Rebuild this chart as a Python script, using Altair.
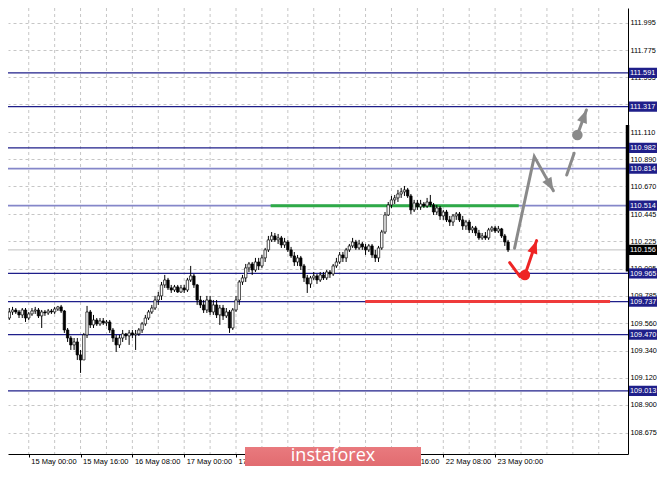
import altair as alt
import pandas as pd

# ---------------- data (H1 candles, bar 0 = 15 May 00:00) ----------------
first_bar = -7
opens = [
    109.572, 109.604, 109.653, 109.669, 109.653, 109.629, 109.669, 109.604, 109.637, 109.661,
    109.669, 109.621, 109.653, 109.645, 109.661, 109.653, 109.677, 109.694, 109.661, 109.507,
    109.442, 109.386, 109.410, 109.305, 109.264, 109.467, 109.653, 109.548, 109.588, 109.556,
    109.580, 109.564, 109.572, 109.507, 109.442, 109.386, 109.442, 109.475, 109.459, 109.483,
    109.467, 109.475, 109.507, 109.556, 109.604, 109.653, 109.685, 109.750, 109.783, 109.872,
    109.912, 109.848, 109.831, 109.856, 109.815, 109.848, 109.831, 109.912, 109.945, 109.872,
    109.750, 109.710, 109.669, 109.750, 109.653, 109.710, 109.629, 109.685, 109.621, 109.653,
    109.523, 109.669, 109.750, 109.896, 109.929, 110.010, 110.042, 109.993, 110.058, 110.026,
    110.091, 110.156, 110.237, 110.269, 110.237, 110.253, 110.196, 110.220, 110.156, 110.107,
    110.058, 110.091, 110.026, 109.929, 109.880, 109.929, 109.945, 109.912, 109.953, 109.929,
    109.977, 109.961, 110.026, 110.058, 110.115, 110.091, 110.156, 110.188, 110.220, 110.172,
    110.204, 110.180, 110.156, 110.188, 110.115, 110.091, 110.172, 110.301, 110.439, 110.520,
    110.561, 110.577, 110.609, 110.626, 110.642, 110.593, 110.480, 110.536, 110.504, 110.528,
    110.512, 110.544, 110.520, 110.463, 110.496, 110.431, 110.463, 110.399, 110.382, 110.431,
    110.447, 110.399, 110.350, 110.382, 110.318, 110.334, 110.293, 110.253, 110.269, 110.253,
    110.318, 110.334, 110.309, 110.326, 110.269, 110.220,
]
closes = [
    109.604, 109.653, 109.669, 109.653, 109.629, 109.669, 109.604, 109.637, 109.661, 109.669,
    109.621, 109.653, 109.645, 109.661, 109.653, 109.677, 109.694, 109.661, 109.507, 109.442,
    109.386, 109.410, 109.305, 109.264, 109.467, 109.653, 109.548, 109.588, 109.556, 109.580,
    109.564, 109.572, 109.507, 109.442, 109.386, 109.442, 109.475, 109.459, 109.483, 109.467,
    109.475, 109.507, 109.556, 109.604, 109.653, 109.685, 109.750, 109.783, 109.872, 109.912,
    109.848, 109.831, 109.856, 109.815, 109.848, 109.831, 109.912, 109.945, 109.872, 109.750,
    109.710, 109.669, 109.750, 109.653, 109.710, 109.629, 109.685, 109.621, 109.653, 109.523,
    109.669, 109.750, 109.896, 109.929, 110.010, 110.042, 109.993, 110.058, 110.026, 110.091,
    110.156, 110.237, 110.269, 110.237, 110.253, 110.196, 110.220, 110.156, 110.107, 110.058,
    110.091, 110.026, 109.929, 109.880, 109.929, 109.945, 109.912, 109.953, 109.929, 109.977,
    109.961, 110.026, 110.058, 110.115, 110.091, 110.156, 110.188, 110.220, 110.172, 110.204,
    110.180, 110.156, 110.188, 110.115, 110.091, 110.172, 110.301, 110.439, 110.520, 110.561,
    110.577, 110.609, 110.626, 110.642, 110.593, 110.480, 110.536, 110.504, 110.528, 110.512,
    110.544, 110.520, 110.463, 110.496, 110.431, 110.463, 110.399, 110.382, 110.431, 110.447,
    110.399, 110.350, 110.382, 110.318, 110.334, 110.293, 110.253, 110.269, 110.253, 110.318,
    110.334, 110.309, 110.326, 110.269, 110.220, 110.156,
]
highs = [
    109.629, 109.685, 109.694, 109.685, 109.669, 109.685, 109.685, 109.653, 109.685, 109.694,
    109.685, 109.669, 109.669, 109.677, 109.677, 109.694, 109.702, 109.710, 109.669, 109.523,
    109.459, 109.442, 109.442, 109.345, 109.483, 109.702, 109.669, 109.629, 109.604, 109.604,
    109.604, 109.588, 109.588, 109.523, 109.467, 109.467, 109.507, 109.483, 109.507, 109.507,
    109.507, 109.523, 109.572, 109.629, 109.669, 109.710, 109.783, 109.815, 109.896, 109.953,
    109.929, 109.872, 109.872, 109.872, 109.872, 109.872, 109.929, 110.026, 109.961, 109.880,
    109.783, 109.750, 109.783, 109.783, 109.750, 109.750, 109.710, 109.710, 109.685, 109.669,
    109.685, 109.783, 109.912, 109.953, 110.042, 110.058, 110.058, 110.091, 110.091, 110.115,
    110.172, 110.269, 110.301, 110.293, 110.285, 110.269, 110.253, 110.237, 110.180, 110.139,
    110.115, 110.107, 110.042, 109.953, 109.945, 109.977, 109.961, 109.977, 109.977, 109.993,
    109.993, 110.042, 110.091, 110.139, 110.139, 110.172, 110.204, 110.253, 110.237, 110.237,
    110.220, 110.204, 110.204, 110.204, 110.156, 110.188, 110.318, 110.463, 110.544, 110.593,
    110.601, 110.642, 110.658, 110.674, 110.658, 110.609, 110.561, 110.561, 110.561, 110.544,
    110.577, 110.601, 110.536, 110.520, 110.512, 110.480, 110.480, 110.431, 110.447, 110.463,
    110.463, 110.431, 110.399, 110.399, 110.350, 110.350, 110.318, 110.293, 110.301, 110.334,
    110.350, 110.350, 110.350, 110.334, 110.285, 110.237,
]
lows = [
    109.540, 109.588, 109.629, 109.637, 109.604, 109.604, 109.572, 109.588, 109.621, 109.637,
    109.604, 109.523, 109.621, 109.629, 109.637, 109.637, 109.661, 109.645, 109.483, 109.410,
    109.345, 109.345, 109.264, 109.159, 109.264, 109.442, 109.523, 109.523, 109.540, 109.540,
    109.548, 109.540, 109.483, 109.410, 109.329, 109.361, 109.410, 109.426, 109.386, 109.442,
    109.345, 109.459, 109.483, 109.540, 109.588, 109.637, 109.669, 109.710, 109.750, 109.848,
    109.831, 109.807, 109.815, 109.807, 109.807, 109.807, 109.815, 109.896, 109.848, 109.710,
    109.685, 109.645, 109.645, 109.629, 109.629, 109.604, 109.548, 109.588, 109.604, 109.483,
    109.507, 109.653, 109.710, 109.872, 109.896, 109.977, 109.953, 109.977, 109.993, 110.010,
    110.058, 110.139, 110.220, 110.220, 110.204, 110.172, 110.172, 110.139, 110.091, 110.026,
    110.026, 109.993, 109.896, 109.807, 109.848, 109.912, 109.880, 109.896, 109.912, 109.912,
    109.929, 109.945, 110.010, 110.042, 110.058, 110.058, 110.139, 110.172, 110.156, 110.156,
    110.156, 110.115, 110.139, 110.091, 110.058, 110.058, 110.156, 110.285, 110.431, 110.496,
    110.528, 110.544, 110.577, 110.593, 110.577, 110.447, 110.463, 110.480, 110.480, 110.496,
    110.496, 110.504, 110.439, 110.439, 110.399, 110.399, 110.382, 110.350, 110.350, 110.399,
    110.382, 110.318, 110.318, 110.293, 110.293, 110.269, 110.237, 110.237, 110.237, 110.237,
    110.301, 110.293, 110.293, 110.253, 110.188, 110.139,
]

price_ticks = [111.995, 111.775, 111.555, 111.335, 111.110, 110.890, 110.670, 110.445, 110.225,
               110.005, 109.785, 109.560, 109.340, 109.120, 108.900, 108.675, 108.455]
# labels that stay visible (the ones under the watermark are hidden in the original)
time_tick_bars = [0, 16, 32, 48, 64, 112, 128, 144]
time_tick_labels = ["15 May 00:00", "15 May 16:00", "16 May 08:00", "17 May 00:00", "17 May 16:00",
                    "21 May 16:00", "22 May 08:00", "23 May 00:00"]
grid_bars = [0, 8, 16, 24, 32, 40, 48, 56, 64, 72, 80, 88, 96, 104, 112, 120, 128, 136, 144,
             152, 160, 168, 176]

navy_levels = [111.591, 111.317, 110.982, 109.965, 109.737, 109.470, 109.013]
lavender_levels = [110.814, 110.514]
bid_price = 110.156
tag_levels = [111.591, 111.317, 110.982, 110.814, 110.514, 110.156, 109.965, 109.737, 109.470, 109.013]
tag_colors = ["#1f1f8a"] * 5 + ["#000000"] + ["#1f1f8a"] * 4

seg_x0 = [74.7, 103.9]
seg_x1 = [151.3, 179.5]
seg_level = [110.514, 109.737]
seg_colors = ["#2eaa47", "#ef3b3b"]
day_range = [111.168, 109.980]

gray_group = ["a", "a", "a", "b", "b", "c", "c"]
gray_bar = [150.0, 156.1, 162.0, 166.1, 168.4, 169.4, 172.2]
gray_price = [110.169, 110.912, 110.636, 110.763, 110.939, 111.087, 111.290]
red_group = ["a", "a", "b", "b"]
red_bar = [148.5, 151.7, 153.2, 156.8]
red_price = [110.053, 109.939, 109.953, 110.231]
head_bar = [162.0, 172.2, 156.8]
head_price = [110.636, 111.290, 110.231]
head_angle = [150, 20, 19]
head_colors = ["#8a8a8a", "#8a8a8a", "#ee2424"]
dot_bar = [169.4, 153.2]
dot_price = [111.087, 109.953]
dot_colors = ["#8a8a8a", "#ee2424"]

# ---------------- styling ----------------
W, H = 620, 446
NAVY = "#1f1f8a"
LAV = "#8587c9"
FONT = "Liberation Sans"
FS = 7.3

xs = alt.Scale(domain=[-4.86, 183.49], nice=False, zero=False)
ys = alt.Scale(domain=[108.502, 112.116], nice=False, zero=False)

label_expr = "[" + ",".join("'%s'" % s for s in time_tick_labels) + "][indexof([" + \
    ",".join(str(b) for b in time_tick_bars) + "], datum.value)]"

x_axis = alt.Axis(values=time_tick_bars, labelExpr=label_expr, orient="bottom", grid=False,
                  domain=True, domainColor="black", domainWidth=1, ticks=True, tickColor="black",
                  tickSize=3, labelAlign="left", labelBaseline="top", labelPadding=0, labelOffset=2,
                  labelFont=FONT, labelFontSize=7.5, labelColor="black", labelFlush=False,
                  labelOverlap=False, labelBound=False, title=None)
y_axis = alt.Axis(values=price_ticks, format=".3f", orient="right", grid=True, gridColor="#c6c6c6",
                  gridDash=[3, 3], gridWidth=1, domain=True, domainColor="black", domainWidth=1,
                  ticks=False, tickSize=0, labelPadding=2, labelFont=FONT, labelFontSize=FS,
                  labelColor="black", labelOverlap=False, labelFlush=False, labelBound=False,
                  title=None)


def X(field):
    return alt.X(field, scale=xs, axis=x_axis, title=None)


def Y(field):
    return alt.Y(field, scale=ys, axis=y_axis, title=None)


candles = pd.DataFrame({"bar": list(range(first_bar, first_bar + len(closes))),
                        "open": opens, "high": highs, "low": lows, "close": closes})

vgrid = alt.Chart(pd.DataFrame({"g": grid_bars})).mark_rule(
    color="#c6c6c6", strokeDash=[3, 3], strokeWidth=1).encode(x=X("g:Q"))

levels_navy = alt.Chart(pd.DataFrame({"level": navy_levels})).mark_rule(
    color=NAVY, strokeWidth=1.3).encode(y=Y("level:Q"))
levels_lav = alt.Chart(pd.DataFrame({"level": lavender_levels})).mark_rule(
    color=LAV, strokeWidth=1.8).encode(y=Y("level:Q"))
bid_line = alt.Chart(pd.DataFrame({"level": [bid_price]})).mark_rule(
    color="#c0c0c0", strokeWidth=1).encode(y=Y("level:Q"))

seg_df = pd.DataFrame({"x0": seg_x0, "x1": seg_x1, "level": seg_level, "c": seg_colors})
segs = alt.Chart(seg_df).mark_rule(strokeWidth=3).encode(
    x=X("x0:Q"), x2="x1:Q", y=Y("level:Q"), color=alt.Color("c:N", scale=None))

wicks = alt.Chart(candles).mark_rule(color="black", strokeWidth=1, clip=True).encode(
    x=X("bar:Q"), y=Y("low:Q"), y2="high:Q")
bodies = alt.Chart(candles).mark_bar(size=2.4, stroke="black", strokeWidth=0.7, clip=True).encode(
    x=X("bar:Q"), y=Y("open:Q"), y2="close:Q",
    fill=alt.condition("datum.close >= datum.open", alt.value("white"), alt.value("black")))

gray_df = pd.DataFrame({"grp": gray_group, "bar": gray_bar, "price": gray_price,
                        "k": list(range(len(gray_bar)))})
gray_lines = alt.Chart(gray_df).mark_line(color="#8a8a8a", strokeWidth=3, strokeCap="round").encode(
    x=X("bar:Q"), y=Y("price:Q"), detail="grp:N", order="k:Q")
red_df = pd.DataFrame({"grp": red_group, "bar": red_bar, "price": red_price,
                       "k": list(range(len(red_bar)))})
red_lines = alt.Chart(red_df).mark_line(color="#ee2424", strokeWidth=3, strokeCap="round").encode(
    x=X("bar:Q"), y=Y("price:Q"), detail="grp:N", order="k:Q")

dots = alt.Chart(pd.DataFrame({"bar": dot_bar, "price": dot_price, "c": dot_colors})).mark_point(
    shape="circle", filled=True, size=110, opacity=1).encode(
    x=X("bar:Q"), y=Y("price:Q"), color=alt.Color("c:N", scale=None))
heads = alt.Chart(pd.DataFrame({"bar": head_bar, "price": head_price, "ang": head_angle,
                                "c": head_colors})).mark_point(
    shape="M0,0L0.8,2L-0.8,2Z", filled=True, size=169, opacity=1).encode(
    x=X("bar:Q"), y=Y("price:Q"), angle=alt.Angle("ang:Q", scale=None),
    color=alt.Color("c:N", scale=None))

day_bar = alt.Chart(pd.DataFrame({"a": [day_range[0]], "b": [day_range[1]]})).mark_rule(
    color="black", strokeWidth=3.5).encode(x=alt.value(W - 0.5), y=Y("a:Q"), y2="b:Q")

tags_df = pd.DataFrame({"level": tag_levels, "c": tag_colors})
tag_boxes = alt.Chart(tags_df).mark_point(
    shape="M-1,-0.3H1V0.3H-1Z", filled=True, size=1156, opacity=1).encode(
    x=alt.value(W + 18), y=Y("level:Q"), color=alt.Color("c:N", scale=None))
tag_text = alt.Chart(tags_df).mark_text(
    align="left", baseline="middle", font=FONT, fontSize=FS, color="white", dy=0.5).encode(
    x=alt.value(W + 2), y=Y("level:Q"), text=alt.Text("level:Q", format=".3f"))

wm_box = alt.Chart(pd.DataFrame({"t": ["instaforex"]})).mark_rect(
    color=alt.Gradient(gradient="linear", x1=0, y1=0, x2=0, y2=1,
                       stops=[alt.GradientStop(color="#e97a7e", offset=0),
                              alt.GradientStop(color="#dc6166", offset=1)])).encode(
    x=alt.value(237), x2=alt.value(413), y=alt.value(439), y2=alt.value(472))
wm_text = alt.Chart(pd.DataFrame({"t": ["instaforex"]})).mark_text(
    font="Open Sans", fontSize=18, color="white", align="center", baseline="middle").encode(
    x=alt.value(325), y=alt.value(448), text="t:N")

chart = alt.layer(
    vgrid, levels_navy, levels_lav, bid_line, segs, wicks, bodies,
    gray_lines, red_lines, dots, heads, day_bar, tag_boxes, tag_text, wm_box, wm_text
).properties(
    width=W, height=H,
    autosize=alt.AutoSizeParams(type="none"),
    padding={"left": 0, "top": 0, "right": 29, "bottom": 12},
    background="white",
).configure_view(stroke=None)

chart.save("out.html", embed_options={"renderer": "svg", "actions": False})
